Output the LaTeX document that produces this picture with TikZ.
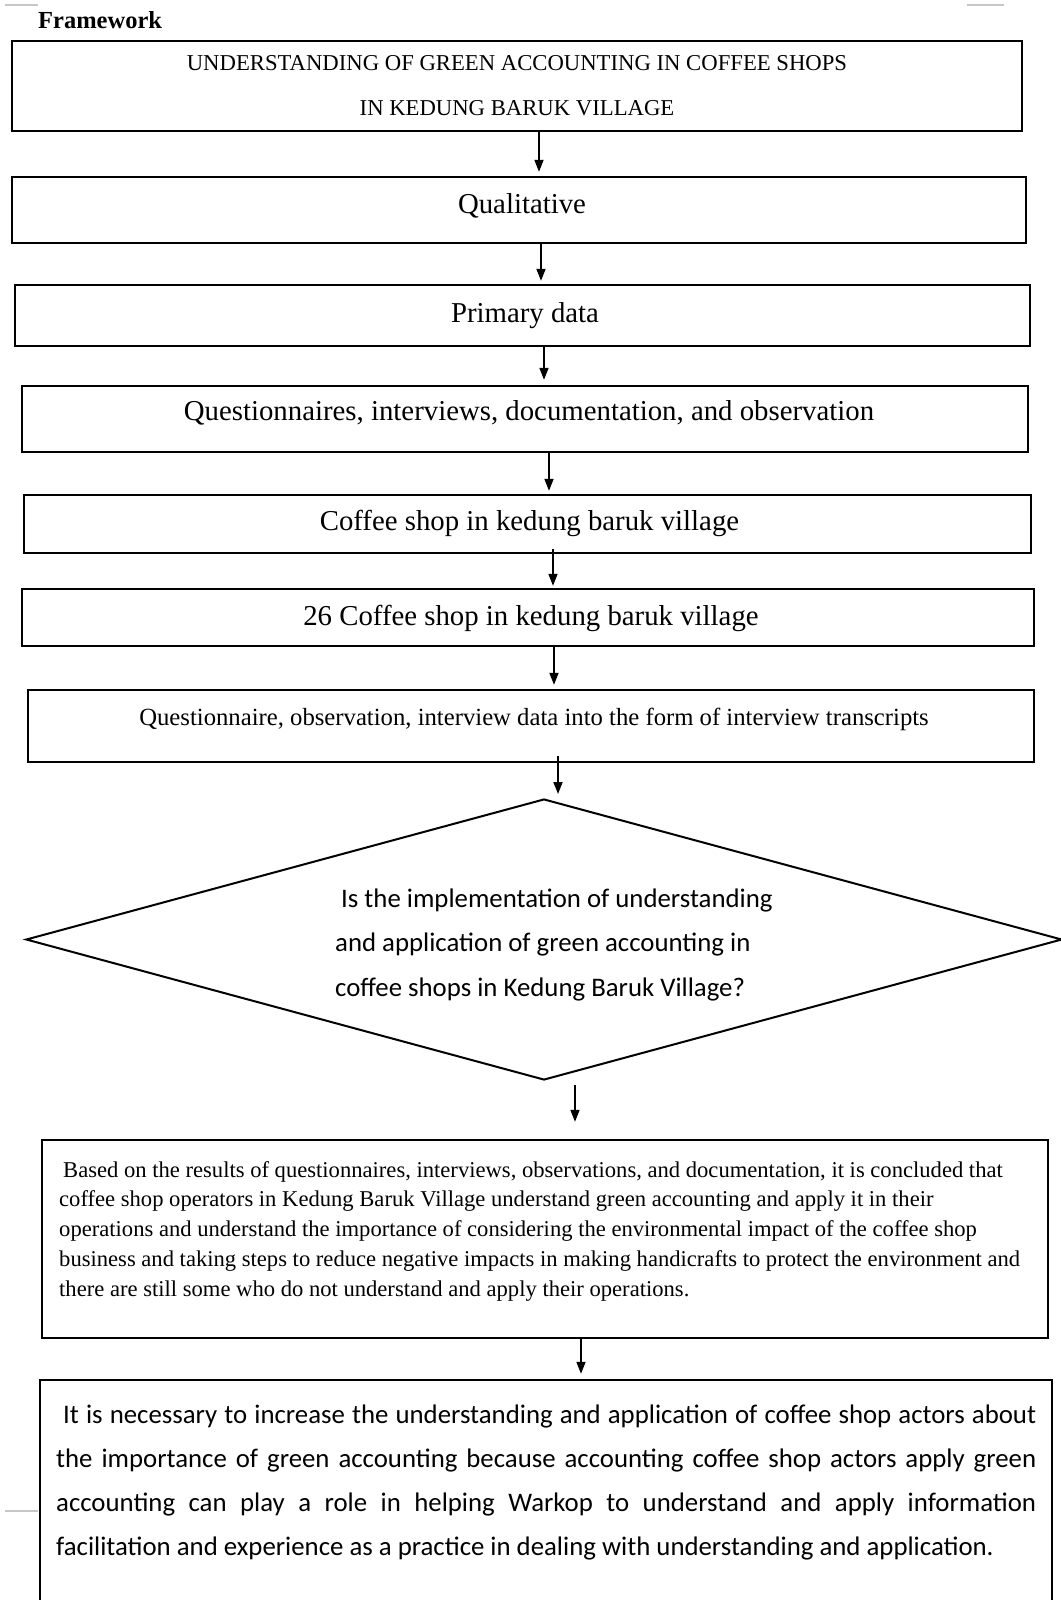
\documentclass[tikz,border=0pt]{standalone}
\usepackage{fontspec}
\setmainfont{Liberation Serif}
\newfontfamily\calib{Carlito}
\usetikzlibrary{arrows.meta,shapes.geometric}
\begin{document}
\begin{tikzpicture}[x=1pt,y=-1pt,
  box/.style={draw=black, line width=2.4pt, rectangle, inner sep=0pt},
  dia/.style={draw=black, line width=2pt, diamond, inner sep=0pt},
  conn/.style={line width=1.8pt, -{Triangle[length=12pt,width=9pt]}},
  txt/.style={inner sep=0pt, anchor=base},
  bigtimes/.style={font=\fontsize{28.8}{34}\selectfont},
  greyline/.style={draw=black!22, line width=1.5pt}
]
\useasboundingbox (0,0) rectangle (1060,1600);
\fill[white] (0,0) rectangle (1060,1600);

% page marks
\draw[greyline] (5,5) -- (38,5);
\draw[greyline] (967,5) -- (1004,5);
\draw[greyline] (5,1511) -- (38,1511);

\node[txt, anchor=base west, font=\bfseries\fontsize{24.5}{29}\selectfont] (fw) at (38,29) {Framework};

% boxes
\node[box, minimum width=1010pt, minimum height=90pt]  (b1) at (517,86) {};
\node[box, minimum width=1014pt, minimum height=66pt]  (b2) at (519,210) {};
\node[box, minimum width=1015pt, minimum height=61pt]  (b3) at (522.5,315.5) {};
\node[box, minimum width=1006pt, minimum height=66pt]  (b4) at (525,419) {};
\node[box, minimum width=1007pt, minimum height=58pt]  (b5) at (527.5,524) {};
\node[box, minimum width=1012pt, minimum height=57pt]  (b6) at (528,617.5) {};
\node[box, minimum width=1006pt, minimum height=72pt]  (b7) at (531,726) {};
\node[dia, minimum width=1036pt, minimum height=281pt] (d)  at (544,939.5) {};
\node[box, minimum width=1006pt, minimum height=198pt] (b8) at (545,1239) {};
\node[box, minimum width=1012pt, minimum height=223pt] (b9) at (546,1491.5) {};

% texts
\node[txt, font=\fontsize{22.7}{45}\selectfont] (t1) at (517,71)
  {\begin{tabular}[t]{@{}c@{}}UNDERSTANDING OF GREEN ACCOUNTING IN COFFEE SHOPS\\ IN KEDUNG BARUK VILLAGE\end{tabular}};
\node[txt, bigtimes] (t2) at (522,213) {Qualitative};
\node[txt, bigtimes] (t3) at (525,322) {Primary data};
\node[txt, bigtimes] (t4) at (529,420) {Questionnaires, interviews, documentation, and observation};
\node[txt, bigtimes] (t5) at (529.5,530) {Coffee shop in kedung baruk village};
\node[txt, bigtimes] (t6) at (531,625) {26 Coffee shop in kedung baruk village};
\node[txt, font=\fontsize{24.7}{28}\selectfont] (t7) at (534,725)
  {Questionnaire, observation, interview data into the form of interview transcripts};
\node[txt, anchor=base west, font=\calib\fontsize{26.8}{44.5}\selectfont] (td) at (335,907)
  {\begin{tabular}[t]{@{}l@{}}\hspace{6pt}Is the implementation of understanding\\ and application of green accounting in\\ coffee shops in Kedung Baruk Village?\end{tabular}};
\node[txt, anchor=base west, font=\fontsize{22.6}{29.8}\selectfont] (t8) at (59,1177)
  {\begin{tabular}[t]{@{}l@{}}\hspace{4pt}Based on the results of questionnaires, interviews, observations, and documentation, it is concluded that\\
  coffee shop operators in Kedung Baruk Village understand green accounting and apply it in their\\
  operations and understand the importance of considering the environmental impact of the coffee shop\\
  business and taking steps to reduce negative impacts in making handicrafts to protect the environment and\\
  there are still some who do not understand and apply their operations.\end{tabular}};
\node[txt, anchor=base west, font=\calib\fontsize{26.8}{44.3}\selectfont] (t9) at (56,1423)
  {\begin{tabular}[t]{@{}l@{}}\hspace{7pt}\makebox[973pt][s]{It is necessary to increase the understanding and application of coffee shop actors about}\\
  \makebox[980pt][s]{the importance of green accounting because accounting coffee shop actors apply green}\\
  \makebox[980pt][s]{accounting can play a role in helping Warkop to understand and apply information}\\
  facilitation and experience as a practice in dealing with understanding and application.\end{tabular}};

% connectors
\coordinate (x1) at (539,0);
\coordinate (x2) at (541,0);
\coordinate (x3) at (544,0);
\coordinate (x4) at (549,0);
\coordinate (x5) at (553,0);
\coordinate (x6) at (554,0);
\coordinate (x7) at (558,0);
\coordinate (x8) at (575,0);
\coordinate (x9) at (581,0);
\draw[conn, shorten >=4pt] (b1.south -| x1) -- (b2.north -| x1);
\draw[conn, shorten >=3pt] (b2.south -| x2) -- (b3.north -| x2);
\draw[conn, shorten >=5pt] (b3.south -| x3) -- (b4.north -| x3);
\draw[conn, shorten >=3pt] (b4.south -| x4) -- (b5.north -| x4);
\draw[conn, shorten <=-5pt, shorten >=2pt] (b5.south -| x5) -- (b6.north -| x5);
\draw[conn, shorten >=4pt] (b6.south -| x6) -- (b7.north -| x6);
\draw[conn, shorten <=-7pt, shorten >=4pt] (b7.south -| x7) -- (d.north -| x7);
\draw[conn, shorten <=4pt, shorten >=17pt] (d.south -| x8) -- (b8.north -| x8);
\draw[conn, shorten >=5pt] (b8.south -| x9) -- (b9.north -| x9);
\end{tikzpicture}
\end{document}
